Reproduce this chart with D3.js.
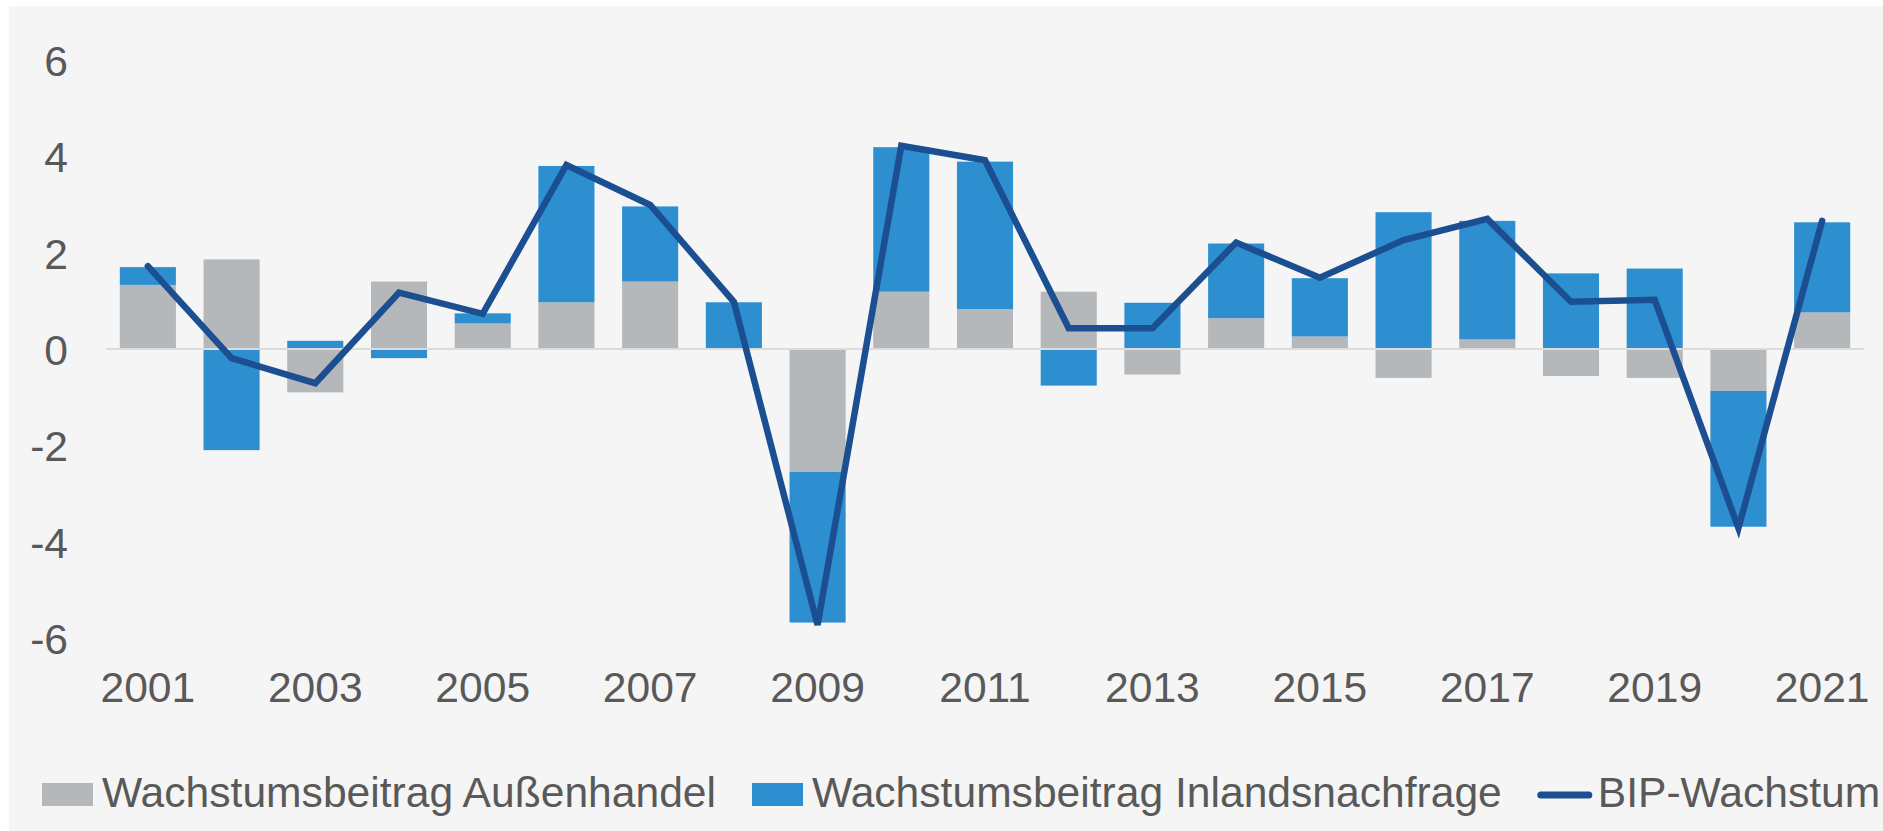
<!DOCTYPE html>
<html>
<head>
<meta charset="utf-8">
<script src="https://cdn.jsdelivr.net/npm/d3@7"></script>
<style>
  html, body { margin: 0; padding: 0; background: #ffffff; }
  svg { display: block; }
  text { font-family: "Liberation Sans", Arial, sans-serif; fill: #595959; }
</style>
</head>
<body>
<svg id="chart" width="1883" height="831"></svg>
<script>
// ---- Data ----
const years = ["2001","2002","2003","2004","2005","2006","2007","2008","2009","2010","2011",
               "2012","2013","2014","2015","2016","2017","2018","2019","2020","2021"];
const aussenhandel = [1.33, 1.86, -0.90, 1.40, 0.53, 0.97, 1.40, 0.00, -2.55, 1.19, 0.83,
                      1.19, -0.53, 0.64, 0.26, -0.60, 0.20, -0.56, -0.60, -0.87, 0.76];
const inlandsnachfrage = [0.37, -2.10, 0.17, -0.19, 0.21, 2.83, 1.56, 0.97, -3.13, 3.00, 3.06,
                          -0.76, 0.96, 1.55, 1.21, 2.84, 2.46, 1.57, 1.67, -2.82, 1.87];
const bipWachstum = [1.72, -0.19, -0.71, 1.17, 0.73, 3.82, 2.99, 0.98, -5.73, 4.22, 3.92,
                     0.43, 0.43, 2.21, 1.48, 2.26, 2.70, 0.98, 1.02, -3.72, 2.66];
const yTicks = [-6, -4, -2, 0, 2, 4, 6];
const xTickLabels = ["2001","2003","2005","2007","2009","2011","2013","2015","2017","2019","2021"];
const seriesNames = ["Wachstumsbeitrag Außenhandel", "Wachstumsbeitrag Inlandsnachfrage", "BIP-Wachstum"];

// ---- Styles ----
const colGray = "#b5b8ba", colBlue = "#2e8fd0", colLine = "#1b4f91";
const fontSize = 42.6;

const svg = d3.select("#chart");

// background panel
svg.append("rect").attr("x", 9).attr("y", 6).attr("width", 1883 - 9).attr("height", 831 - 6)
   .attr("fill", "#f5f5f5");

const x = d3.scaleBand().domain(years).range([106, 1864]).paddingInner(0.33).paddingOuter(0.165);
const y = d3.scaleLinear().domain([-6, 6]).range([638, 60]);

// stacked data (diverging)
const table = years.map((yr, i) => ({ year: yr, a: aussenhandel[i], b: inlandsnachfrage[i] }));
const stack = d3.stack().keys(["a", "b"]).offset(d3.stackOffsetDiverging);
const stacked = stack(table);
const colors = { a: colGray, b: colBlue };

svg.append("g").selectAll("g").data(stacked).join("g")
  .attr("fill", d => colors[d.key])
  .selectAll("rect").data(d => d).join("rect")
  .attr("x", d => x(d.data.year))
  .attr("width", x.bandwidth())
  .attr("y", d => y(Math.max(d[0], d[1])))
  .attr("height", d => Math.abs(y(d[0]) - y(d[1])));

// zero line
svg.append("line")
  .attr("x1", x.range()[0]).attr("x2", x.range()[1])
  .attr("y1", y(0)).attr("y2", y(0))
  .attr("stroke", "#dcdcdc").attr("stroke-width", 2);

// BIP line
const line = d3.line()
  .x((d, i) => x(years[i]) + x.bandwidth() / 2)
  .y(d => y(d));
svg.append("path").datum(bipWachstum)
  .attr("d", line)
  .attr("fill", "none")
  .attr("stroke", colLine)
  .attr("stroke-width", 6.5)
  .attr("stroke-linejoin", "miter")
  .attr("stroke-linecap", "round");

// Y axis
const yAxis = svg.append("g").attr("transform", "translate(68,0)")
  .call(d3.axisLeft(y).tickValues(yTicks).tickSize(0).tickPadding(0).tickFormat(d => String(d)));
yAxis.select(".domain").remove();
yAxis.selectAll("text").attr("font-size", fontSize).attr("font-family", null).attr("fill", "#595959")
  .attr("dy", "0.36em");

// X axis
const xAxis = svg.append("g").attr("transform", "translate(0,638)")
  .call(d3.axisBottom(x).tickValues(xTickLabels).tickSize(0).tickPadding(34));
xAxis.select(".domain").remove();
xAxis.selectAll("text").attr("font-size", fontSize).attr("font-family", null).attr("fill", "#595959");

// Legend
const legend = svg.append("g");
let lx = 42;
const swW = 51, swH = 23, swY = 783, textBase = 807, gapAfterSw = 9, gapItem = 36;
seriesNames.forEach((name, i) => {
  if (i < 2) {
    legend.append("rect").attr("x", lx).attr("y", swY).attr("width", swW).attr("height", swH)
      .attr("fill", i === 0 ? colGray : colBlue);
  } else {
    legend.append("line").attr("x1", lx + 3).attr("x2", lx + swW).attr("y1", 795).attr("y2", 795)
      .attr("stroke", colLine).attr("stroke-width", 7).attr("stroke-linecap", "round");
  }
  const t = legend.append("text").attr("x", lx + swW + gapAfterSw).attr("y", textBase)
    .attr("font-size", fontSize).text(name);
  lx = lx + swW + gapAfterSw + t.node().getComputedTextLength() + gapItem;
});
</script>
</body>
</html>
